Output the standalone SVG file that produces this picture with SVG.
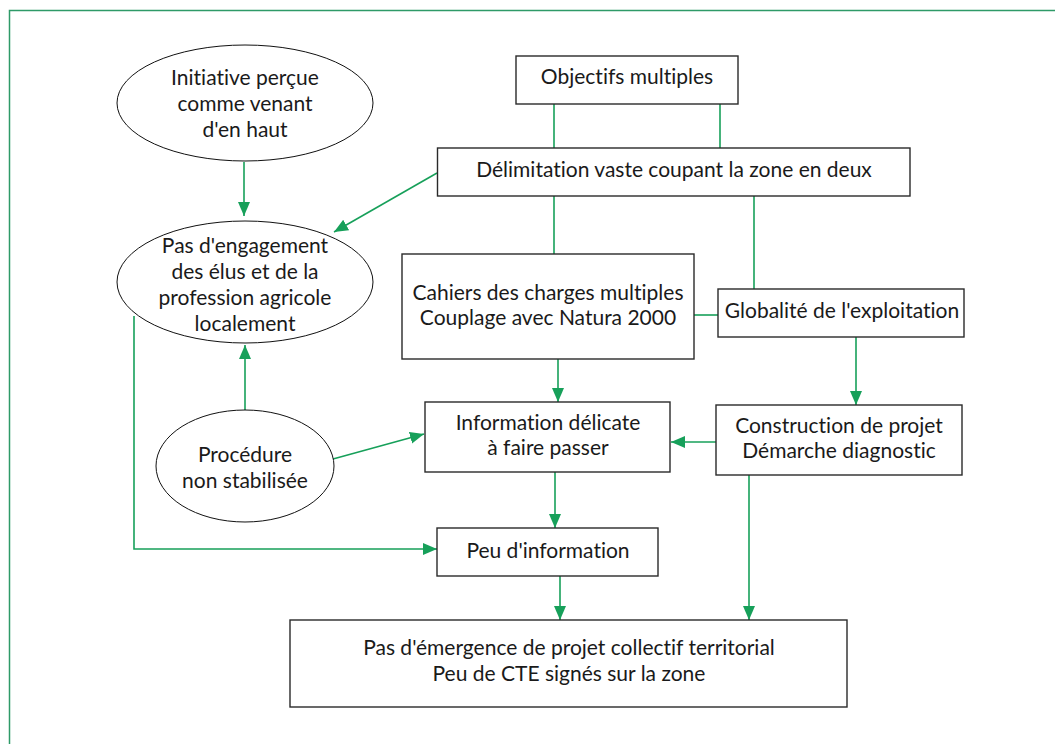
<svg xmlns="http://www.w3.org/2000/svg" width="1055" height="744" viewBox="0 0 1055 744">
<defs>
<style>
.t{font-family:Lato,"Open Sans","Liberation Sans",sans-serif;font-size:21px;fill:#1a1a1a;text-anchor:middle;font-variant-ligatures:none}
.b{fill:#fff;stroke:#2a2a2a;stroke-width:1.4}
.e{fill:#fff;stroke:#111;stroke-width:1}
.c{fill:none;stroke:#17a05a;stroke-width:1.6}
.a{marker-end:url(#ah)}
</style>
<marker id="ah" markerUnits="userSpaceOnUse" markerWidth="14" markerHeight="14" viewBox="0 0 14 14" refX="14" refY="7" orient="auto">
<path d="M0,1 L14,7 L0,13 Z" fill="#17a05a"/>
</marker>
</defs>
<rect width="1055" height="744" fill="#fff"/>
<path d="M9.5,744 V10.5 H1055" fill="none" stroke="#2e9a68" stroke-width="1.5"/>

<g id="connectors">
<line class="c" x1="554" y1="104" x2="554" y2="148"/>
<line class="c" x1="720" y1="104" x2="720" y2="148"/>
<line class="c" x1="554" y1="196" x2="554" y2="254"/>
<line class="c" x1="754" y1="196" x2="754" y2="289"/>
<line class="c" x1="694" y1="315" x2="718" y2="315"/>
<line class="c a" x1="437" y1="173" x2="334" y2="232"/>
<line class="c a" x1="244" y1="162" x2="244" y2="216"/>
<line class="c a" x1="245" y1="410" x2="245" y2="345"/>
<line class="c a" x1="333" y1="459" x2="424" y2="434"/>
<polyline class="c a" points="134,316 134,549 437,549"/>
<line class="c a" x1="558" y1="359" x2="558" y2="402"/>
<line class="c a" x1="856" y1="337" x2="856" y2="405"/>
<line class="c a" x1="716" y1="442" x2="671" y2="442"/>
<line class="c a" x1="555" y1="472" x2="555" y2="528"/>
<line class="c a" x1="560" y1="576" x2="560" y2="620"/>
<line class="c a" x1="749" y1="475" x2="749" y2="620"/>
</g>

<g id="n-initiative">
<ellipse class="e" cx="245" cy="103" rx="128" ry="58"/>
<text class="t" x="245" y="85">Initiative perçue</text>
<text class="t" x="245" y="111">comme venant</text>
<text class="t" x="245" y="137">d'en haut</text>
</g>
<g id="n-engagement">
<ellipse class="e" cx="245" cy="282" rx="128" ry="61"/>
<text class="t" x="245" y="253">Pas d'engagement</text>
<text class="t" x="245" y="279">des élus et de la</text>
<text class="t" x="245" y="305">profession agricole</text>
<text class="t" x="245" y="331">localement</text>
</g>
<g id="n-procedure">
<ellipse class="e" cx="245" cy="466" rx="89" ry="56"/>
<text class="t" x="245" y="462">Procédure</text>
<text class="t" x="245" y="488">non stabilisée</text>
</g>
<g id="n-objectifs">
<rect class="b" x="516" y="56" width="222" height="48"/>
<text class="t" x="627" y="84">Objectifs multiples</text>
</g>
<g id="n-delimitation">
<rect class="b" x="437.5" y="148" width="472.5" height="48"/>
<text class="t" x="674" y="177">Délimitation vaste coupant la zone en deux</text>
</g>
<g id="n-cahiers">
<rect class="b" x="402" y="254" width="292" height="105"/>
<text class="t" x="548" y="300">Cahiers des charges multiples</text>
<text class="t" x="548" y="325">Couplage avec Natura 2000</text>
</g>
<g id="n-globalite">
<rect class="b" x="718" y="289" width="246" height="48"/>
<text class="t" x="842" y="318">Globalité de l'exploitation</text>
</g>
<g id="n-information">
<rect class="b" x="425" y="402" width="245" height="70"/>
<text class="t" x="548" y="430">Information délicate</text>
<text class="t" x="548" y="455">à faire passer</text>
</g>
<g id="n-construction">
<rect class="b" x="716" y="405" width="246" height="70"/>
<text class="t" x="839" y="433">Construction de projet</text>
<text class="t" x="839" y="458">Démarche diagnostic</text>
</g>
<g id="n-peu">
<rect class="b" x="437" y="528" width="221" height="48"/>
<text class="t" x="548" y="558">Peu d'information</text>
</g>
<g id="n-emergence">
<rect class="b" x="290" y="620" width="557" height="87"/>
<text class="t" x="569" y="655">Pas d'émergence de projet collectif territorial</text>
<text class="t" x="569" y="681">Peu de CTE signés sur la zone</text>
</g>
</svg>
